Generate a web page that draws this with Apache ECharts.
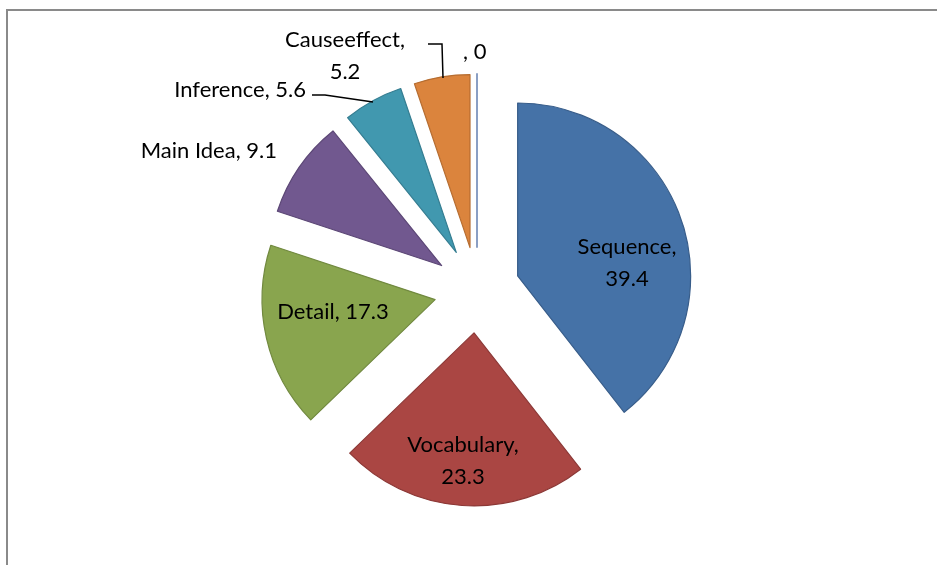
<!DOCTYPE html>
<html>
<head>
<meta charset="utf-8">
<script src="https://cdn.jsdelivr.net/npm/echarts@6/dist/echarts.min.js"></script>
<style>
  html, body { margin: 0; padding: 0; background: #fff; overflow: hidden; }
  #chart { width: 937px; height: 565px; }
</style>
</head>
<body>
<div id="chart"></div>
<script>
// data
const categories = ['Sequence', 'Vocabulary', 'Detail', 'Main Idea', 'Inference', 'Causeeffect', ''];
const values = [39.4, 23.3, 17.3, 9.1, 5.6, 5.2, 0];

// styles
const fills = ['#4572a7', '#aa4643', '#89a54e', '#71588f', '#4198af', '#db843d', '#4572a7'];
const borders = ['#385d8a', '#8c3836', '#71893f', '#5c4776', '#357d91', '#b66d31', '#8a9fc4'];
// label placement (x, y, align) - mimics excel "best fit"
const labelPos = [
    [627, 263, 'center'],
    [463, 461, 'center'],
    [333, 312, 'center'],
    [277, 151, 'right'],
    [306, 90, 'right'],
    [345, 56, 'center'],
    [463, 52, 'left']
];
const leaderLines = {
    4: [[312, 95], [325, 95], [373, 102]],
    5: [[428, 44], [442, 44], [443, 78]]
};
const insideIdx = [0, 1, 2];
const twoLine = [0, 1, 5];

const center = [477, 290];
const radius = 173;

const chart = echarts.init(document.getElementById('chart'));

// exploded slices (all selected -> pushed out along their mid angle)
const sliceData = categories.map((name, i) => ({
    name: name,
    value: values[i],
    selected: true,
    itemStyle: { color: fills[i], borderColor: borders[i], borderWidth: i === 6 ? 2 : 1.2 }
}));

// invisible copy that only carries the labels (selected labels ignore labelLayout)
const labelData = categories.map((name, i) => ({
    name: name,
    value: values[i],
    itemStyle: { color: 'rgba(0,0,0,0)', borderWidth: 0 },
    label: {
        position: insideIdx.includes(i) ? 'inside' : 'outside',
        formatter: twoLine.includes(i) ? '{b},\n{c}' : '{b}, {c}'
    },
    labelLine: { show: leaderLines[i] !== undefined }
}));

chart.setOption({
    animation: false,
    graphic: [{
        type: 'rect',
        shape: { x: 7, y: 10, width: 1000, height: 1000 },
        style: { fill: 'none', stroke: '#8a8a8a', lineWidth: 2 },
        silent: true
    }],
    series: [{
        type: 'pie',
        center: center,
        radius: radius,
        startAngle: 90,
        clockwise: true,
        selectedMode: 'multiple',
        selectedOffset: 43,
        silent: true,
        label: { show: false },
        labelLine: { show: false },
        emphasis: { disabled: true },
        data: sliceData
    }, {
        type: 'pie',
        center: center,
        radius: radius,
        startAngle: 90,
        clockwise: true,
        silent: true,
        z: 3,
        avoidLabelOverlap: false,
        emphasis: { disabled: true },
        data: labelData,
        label: {
            color: '#000',
            fontFamily: 'Lato',
            fontSize: 22,
            lineHeight: 32
        },
        labelLine: {
            lineStyle: { color: '#000', width: 1.5 },
            smooth: false
        },
        labelLayout: function (params) {
            const p = labelPos[params.dataIndex];
            const out = {
                x: p[0],
                y: p[1],
                align: p[2],
                verticalAlign: 'middle'
            };
            if (leaderLines[params.dataIndex]) {
                out.labelLinePoints = leaderLines[params.dataIndex];
            }
            return out;
        }
    }]
});
</script>
</body>
</html>
